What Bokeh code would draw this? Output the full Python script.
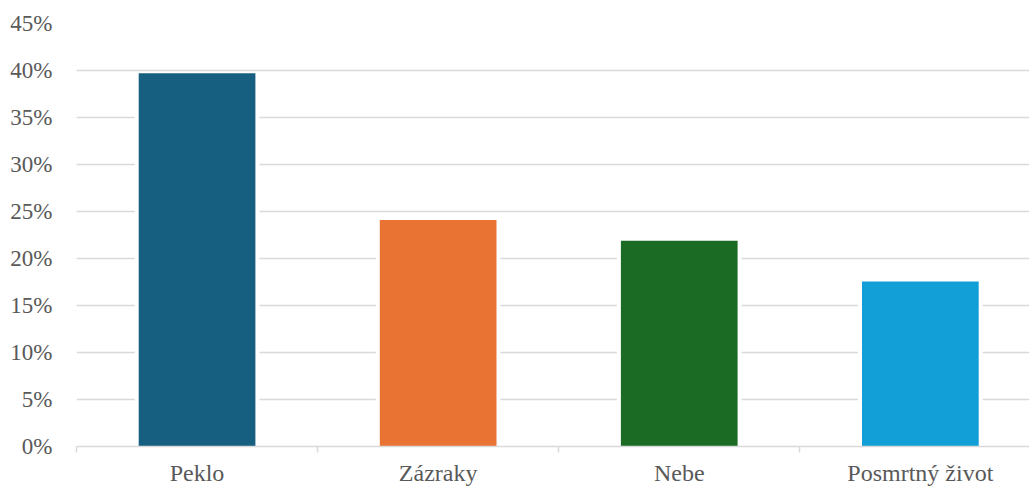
from bokeh.plotting import figure
from bokeh.models import ColumnDataSource, Range1d, FixedTicker, NumeralTickFormatter
from bokeh.embed import file_html
from bokeh.resources import INLINE

categories = ["Peklo", "Zázraky", "Nebe", "Posmrtný život"]
values = [0.397, 0.241, 0.219, 0.1755]
colors = ["#175F80", "#E97333", "#1B6B25", "#129ED6"]
y_ticks = [0, 0.05, 0.10, 0.15, 0.20, 0.25, 0.30, 0.35, 0.40, 0.45]

FONT = "Liberation Serif"
GRID = "#D9D9D9"
TEXT = "#595959"

xs = list(range(len(categories)))
src = ColumnDataSource(dict(x=xs, top=values, color=colors))

W, H = 1029, 488
LEFT, TOP, BOTTOM = 76, 23, 42
p = figure(width=W, height=H, output_backend="svg", toolbar_location=None,
           min_border_left=LEFT, min_border_right=0, min_border_top=TOP,
           min_border_bottom=BOTTOM)
frame_w = W - LEFT
p.x_range = Range1d(-0.5, -0.5 + frame_w / 241.1)
p.y_range = Range1d(0, 0.45)
p.outline_line_color = None
p.background_fill_color = "white"
p.border_fill_color = "white"

# white halo behind bars (breaks gridlines like the original)
p.vbar(x="x", top="top", bottom=0, width=0.484 + 8 / 241.1, source=src,
       fill_color="white", line_color=None)
p.vbar(x="x", top="top", bottom=0, width=0.484, source=src,
       fill_color="color", line_color=None)

# y axis
p.yaxis.ticker = FixedTicker(ticks=y_ticks)
p.yaxis.formatter = NumeralTickFormatter(format="0%")
p.yaxis.axis_line_color = None
p.yaxis.major_tick_line_color = None
p.yaxis.minor_tick_line_color = None
p.yaxis.major_label_text_font = FONT
p.yaxis.major_label_text_font_size = "23px"
p.yaxis.major_label_text_color = TEXT
p.yaxis.major_label_standoff = 18

p.ygrid.ticker = FixedTicker(ticks=y_ticks)
p.ygrid.grid_line_color = GRID
p.ygrid.grid_line_width = 1.5
p.xgrid.grid_line_color = None

# x axis
p.xaxis.ticker = FixedTicker(ticks=xs, minor_ticks=[i - 0.5 for i in xs])
p.xaxis.major_label_overrides = {i: c for i, c in zip(xs, categories)}
p.xaxis.axis_line_color = GRID
p.xaxis.axis_line_width = 1.5
p.xaxis.major_tick_line_color = None
p.xaxis.minor_tick_line_color = GRID
p.xaxis.minor_tick_line_width = 1.5
p.xaxis.minor_tick_in = 0
p.xaxis.minor_tick_out = 6
p.xaxis.major_label_text_font = FONT
p.xaxis.major_label_text_font_size = "24px"
p.xaxis.major_label_text_color = TEXT
p.xaxis.major_label_standoff = 7

open("out.html", "w").write(file_html(p, INLINE))
